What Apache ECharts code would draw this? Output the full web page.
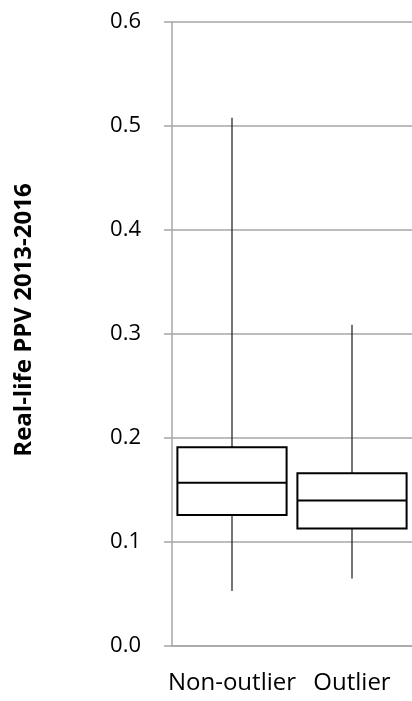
<!DOCTYPE html>
<html>
<head>
<meta charset="utf-8">
<script src="https://cdn.jsdelivr.net/npm/echarts@6/dist/echarts.min.js"></script>
<style>
  html, body { margin: 0; padding: 0; background: #fff; }
  #chart { width: 412px; height: 701px; }
</style>
</head>
<body>
<div id="chart"></div>
<script>
// categories and box statistics (min, q1, median, q3, max)
var categories = ['Non-outlier', 'Outlier'];
var whiskerLow = [0.053, 0.065];
var boxLow = [0.126, 0.113];
var medians = [0.157, 0.140];
var boxHigh = [0.191, 0.166];
var whiskerHigh = [0.508, 0.309];
var yTicks = ['0.0', '0.1', '0.2', '0.3', '0.4', '0.5', '0.6'];

var boxData = categories.map(function (c, i) {
    return [i, whiskerLow[i], boxLow[i], medians[i], boxHigh[i], whiskerHigh[i]];
});

// box without whisker caps, like the original
function renderBox(params, api) {
    var x = api.value(0);
    var half = api.size([1, 0])[0] * 0.455;
    var pMin = api.coord([x, api.value(1)]);
    var pQ1 = api.coord([x, api.value(2)]);
    var pMed = api.coord([x, api.value(3)]);
    var pQ3 = api.coord([x, api.value(4)]);
    var pMax = api.coord([x, api.value(5)]);
    var cx = pMed[0];
    return {
        type: 'group',
        children: [
            { type: 'line', shape: { x1: cx, y1: pMax[1], x2: cx, y2: pQ3[1] }, style: { stroke: '#1a1a1a', lineWidth: 1.2 } },
            { type: 'line', shape: { x1: cx, y1: pQ1[1], x2: cx, y2: pMin[1] }, style: { stroke: '#1a1a1a', lineWidth: 1.2 } },
            { type: 'rect', shape: { x: cx - half, y: pQ3[1], width: half * 2, height: pQ1[1] - pQ3[1] }, style: { fill: '#fff', stroke: '#000', lineWidth: 2 } },
            { type: 'line', shape: { x1: cx - half, y1: pMed[1], x2: cx + half, y2: pMed[1] }, style: { stroke: '#000', lineWidth: 2 } }
        ]
    };
}

var myChart = echarts.init(document.getElementById('chart'));
var option = {
    animation: false,
    grid: { left: 172, right: -5, top: 22, bottom: 55, containLabel: false },
    xAxis: {
        type: 'category',
        data: categories,
        axisLine: { lineStyle: { color: '#a6a6a6', width: 1.5 } },
        axisTick: { show: false },
        axisLabel: { color: '#000', fontSize: 24, fontFamily: 'Open Sans', margin: 25, interval: 0, hideOverlap: false }
    },
    yAxis: {
        type: 'value',
        min: 0,
        max: 0.6,
        interval: 0.1,
        name: 'Real-life PPV 2013-2016',
        nameLocation: 'middle',
        nameGap: 136,
        nameTextStyle: { color: '#000', fontSize: 24, fontWeight: 'bold', fontFamily: 'Open Sans', padding: [0, 0, 0, 28] },
        axisLine: { show: true, lineStyle: { color: '#a6a6a6', width: 1.5 } },
        axisTick: { show: true, length: 8, lineStyle: { color: '#a6a6a6', width: 1.5 } },
        splitLine: { lineStyle: { color: '#a6a6a6', width: 1.5 } },
        axisLabel: {
            color: '#000', fontSize: 22, fontFamily: 'Open Sans', margin: 31,
            formatter: function (v) { return yTicks[Math.round(v * 10)]; }
        }
    },
    series: [{
        type: 'custom',
        renderItem: renderBox,
        encode: { x: 0, y: [1, 2, 3, 4, 5] },
        data: boxData
    }]
};
myChart.setOption(option);
</script>
</body>
</html>
